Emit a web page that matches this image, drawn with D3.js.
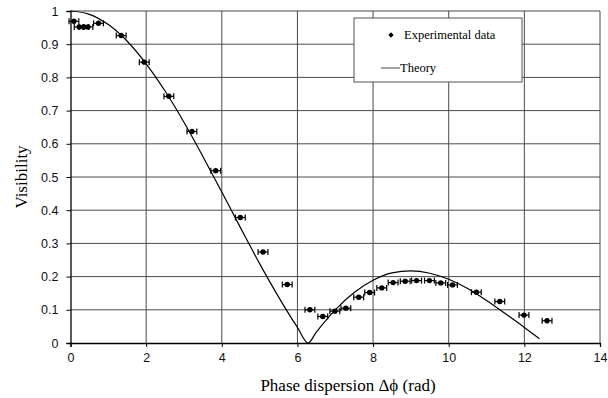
<!DOCTYPE html>
<html>
<head>
<meta charset="utf-8">
<script src="https://cdn.jsdelivr.net/npm/d3@7"></script>
<style>
  body { margin: 0; background: #fff; }
  svg { display: block; }
</style>
</head>
<body>
<div id="chart"></div>
<script>
// experimental points (phase dispersion in rad, visibility)
let expX = [0.09, 0.23, 0.35, 0.46, 0.74, 1.34, 1.95, 2.6, 3.21, 3.84, 4.49, 5.09, 5.73,
            6.33, 6.67, 6.99, 7.28, 7.62, 7.91, 8.23, 8.53, 8.85, 9.15, 9.49, 9.79, 10.1,
            10.73, 11.35, 11.99, 12.6];
let expY = [0.969, 0.952, 0.952, 0.952, 0.963, 0.926, 0.846, 0.743, 0.637, 0.519, 0.378, 0.274, 0.176,
            0.1, 0.08, 0.096, 0.105, 0.138, 0.152, 0.166, 0.182, 0.186, 0.188, 0.188, 0.181, 0.175,
            0.153, 0.125, 0.084, 0.067];
let errX = 0.13;

// theory curve
let theoryX = [0, 0.5, 1, 1.5, 2, 2.5, 3, 3.5, 4, 4.5, 5, 5.5, 6, 6.28,
               6.5, 7, 7.5, 8, 8.5, 9, 9.5, 10, 10.5, 11, 11.5, 12, 12.4];
let theoryY = [1, 0.99, 0.959, 0.909, 0.841, 0.759, 0.665, 0.562, 0.455, 0.346, 0.239, 0.139, 0.047, 0,
               0.033, 0.1, 0.152, 0.189, 0.211, 0.217, 0.21, 0.192, 0.164, 0.128, 0.088, 0.047, 0.013];

let xTicks = [0, 2, 4, 6, 8, 10, 12, 14];
let yTicks = [0, 0.1, 0.2, 0.3, 0.4, 0.5, 0.6, 0.7, 0.8, 0.9, 1];

let W = 608, H = 398;
let margin = {top: 11, right: 8, bottom: 55, left: 70.5};

let svg = d3.select("#chart").append("svg")
    .attr("width", W)
    .attr("height", H);

let x = d3.scaleLinear().domain([0, 14]).range([margin.left, W - margin.right]);
let y = d3.scaleLinear().domain([0, 1]).range([H - margin.bottom, margin.top]);

// grid
svg.append("g")
    .selectAll("line")
    .data(yTicks.filter(d => d > 0))
    .enter()
    .append("line")
    .attr("x1", x(0)).attr("x2", x(14))
    .attr("y1", d => y(d)).attr("y2", d => y(d))
    .style("stroke", "#4a4a4a")
    .style("stroke-width", 1);

svg.append("g")
    .selectAll("line")
    .data(xTicks.filter(d => d > 0))
    .enter()
    .append("line")
    .attr("x1", d => x(d)).attr("x2", d => x(d))
    .attr("y1", y(0)).attr("y2", y(1))
    .style("stroke", "#4a4a4a")
    .style("stroke-width", 1);

// axes
let xAxis = svg.append("g")
    .attr("transform", "translate(0," + y(0) + ")")
    .call(d3.axisBottom(x).tickValues(xTicks).tickSize(4).tickPadding(6).tickFormat(d3.format("d")));
let yAxis = svg.append("g")
    .attr("transform", "translate(" + x(0) + ",0)")
    .call(d3.axisLeft(y).tickValues(yTicks).tickSize(4).tickPadding(8).tickFormat(d => d === 0 || d === 1 ? d : d3.format(".1f")(d)));

[xAxis, yAxis].forEach(a => {
    a.select(".domain").style("stroke", "#000").style("stroke-width", 1.3);
    a.selectAll(".tick line").style("stroke", "#000");
    a.selectAll("text")
        .style("font-family", "'Liberation Sans', Arial, sans-serif")
        .style("font-size", "12.5px")
        .style("fill", "#111");
});

// theory line
let line = d3.line()
    .x((d, i) => x(theoryX[i]))
    .y((d, i) => y(theoryY[i]))
    .curve(d3.curveMonotoneX);

svg.append("path")
    .datum(theoryY)
    .attr("d", line)
    .style("fill", "none")
    .style("stroke", "#000")
    .style("stroke-width", 1.2);

// experimental points with horizontal error bars
let pts = svg.append("g")
    .selectAll("g")
    .data(expX.map((d, i) => [d, expY[i]]))
    .enter()
    .append("g");

pts.append("line")
    .attr("x1", d => x(d[0] - errX)).attr("x2", d => x(d[0] + errX))
    .attr("y1", d => y(d[1])).attr("y2", d => y(d[1]))
    .style("stroke", "#000").style("stroke-width", 1.2);
pts.append("line")
    .attr("x1", d => x(d[0] - errX)).attr("x2", d => x(d[0] - errX))
    .attr("y1", d => y(d[1]) - 3).attr("y2", d => y(d[1]) + 3)
    .style("stroke", "#000").style("stroke-width", 1.2);
pts.append("line")
    .attr("x1", d => x(d[0] + errX)).attr("x2", d => x(d[0] + errX))
    .attr("y1", d => y(d[1]) - 3).attr("y2", d => y(d[1]) + 3)
    .style("stroke", "#000").style("stroke-width", 1.2);
pts.append("circle")
    .attr("cx", d => x(d[0]))
    .attr("cy", d => y(d[1]))
    .attr("r", 2.7)
    .style("fill", "#000");

// legend
let leg = svg.append("g");
leg.append("rect")
    .attr("x", 354).attr("y", 18)
    .attr("width", 168).attr("height", 64)
    .style("fill", "#fff")
    .style("stroke", "#555")
    .style("stroke-width", 1);
leg.append("path")
    .attr("transform", "translate(391,35) rotate(45)")
    .attr("d", d3.symbol().type(d3.symbolSquare).size(14))
    .style("fill", "#000");
leg.append("text")
    .attr("x", 404).attr("y", 39)
    .style("font-family", "'Liberation Serif', 'Times New Roman', serif")
    .style("font-size", "12.5px")
    .text("Experimental data");
leg.append("line")
    .attr("x1", 381).attr("x2", 400)
    .attr("y1", 68).attr("y2", 68)
    .style("stroke", "#444").style("stroke-width", 1);
leg.append("text")
    .attr("x", 400).attr("y", 72)
    .style("font-family", "'Liberation Serif', 'Times New Roman', serif")
    .style("font-size", "12.5px")
    .text("Theory");

// axis titles
svg.append("text")
    .attr("x", 348).attr("y", 391)
    .attr("text-anchor", "middle")
    .style("font-family", "'Liberation Serif', 'Times New Roman', serif")
    .style("font-size", "17px")
    .text("Phase dispersion \u0394\u03D5 (rad)");

svg.append("text")
    .attr("transform", "translate(27,177) rotate(-90)")
    .attr("text-anchor", "middle")
    .style("font-family", "'Liberation Serif', 'Times New Roman', serif")
    .style("font-size", "17px")
    .text("Visibility");
</script>
</body>
</html>
